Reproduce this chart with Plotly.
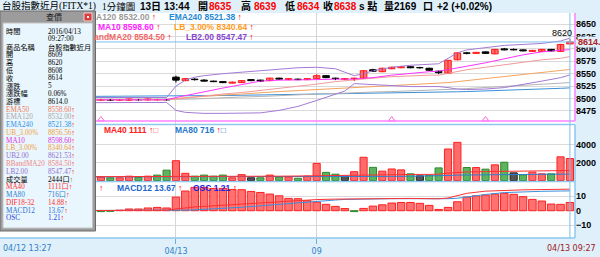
import plotly.graph_objects as go

# ---------------- data ----------------
TIMES = ["13:27", "13:28", "13:29", "13:30", "13:31", "13:32", "13:33", "13:34", "13:35", "13:36",
         "13:37", "13:38", "13:39", "13:40", "13:41", "13:42", "13:43", "13:44", "13:45",
         "08:45", "08:46", "08:47", "08:48", "08:49", "08:50", "08:51", "08:52", "08:53", "08:54",
         "08:55", "08:56", "08:57", "08:58", "08:59", "09:00", "09:01", "09:02", "09:03", "09:04",
         "09:05", "09:06", "09:07", "09:08", "09:09", "09:10", "09:11", "09:12", "09:13", "09:14",
         "09:15", "09:16", "09:17", "09:18", "09:19", "09:20", "09:21", "09:22", "09:23", "09:24",
         "09:25", "09:26", "09:27"]
TICK_AT = ["08:45", "09:00"]
TICK_TEXT = ["04/13", "09"]
START_LABEL = "04/12 13:27"
END_LABEL = "04/13 09:27"

OPEN = [8497, 8496, 8497, 8498, 8497, 8496, 8497, 8499, 8497, 8498, 8496,
        8496, 8498, 8496, 8496, 8498, 8497, 8497, 8498,
        8543, 8536, 8539, 8537, 8535, 8534, 8531, 8532, 8538, 8537, 8536, 8541, 8538, 8539, 8538,
        8540, 8546, 8541, 8539, 8540, 8541, 8558, 8554, 8560, 8562, 8564, 8562, 8561, 8555, 8551,
        8578, 8592, 8591, 8594, 8590, 8600, 8599, 8598, 8595, 8595, 8599, 8595, 8610]
HIGH = [8499, 8498, 8499, 8500, 8499, 8498, 8500, 8500, 8499, 8499, 8498,
        8499, 8499, 8498, 8500, 8499, 8500, 8499, 8499,
        8546, 8541, 8541, 8539, 8536, 8535, 8534, 8537, 8539, 8538, 8542, 8542, 8541, 8540, 8541,
        8549, 8547, 8542, 8541, 8542, 8557, 8560, 8562, 8564, 8565, 8565, 8564, 8562, 8556, 8578,
        8593, 8594, 8594, 8595, 8600, 8602, 8601, 8599, 8598, 8600, 8600, 8610, 8620]
LOW = [8495, 8494, 8495, 8496, 8495, 8494, 8496, 8496, 8495, 8495, 8494,
       8495, 8495, 8495, 8495, 8496, 8496, 8496, 8496,
       8532, 8535, 8536, 8534, 8533, 8531, 8530, 8531, 8535, 8534, 8535, 8538, 8537, 8537, 8537,
       8539, 8541, 8537, 8537, 8535, 8540, 8554, 8553, 8559, 8561, 8561, 8560, 8556, 8549, 8550,
       8577, 8589, 8590, 8590, 8589, 8597, 8597, 8595, 8594, 8594, 8595, 8594, 8609]
CLOSE = [8496, 8497, 8498, 8497, 8496, 8497, 8499, 8497, 8498, 8496, 8496,
         8498, 8496, 8497, 8499, 8497, 8499, 8498, 8497,
         8537, 8540, 8538, 8535, 8534, 8532, 8533, 8536, 8536, 8535, 8541, 8539, 8540, 8538, 8540,
         8546, 8542, 8540, 8540, 8541, 8556, 8555, 8561, 8563, 8564, 8562, 8562, 8557, 8552, 8577,
         8592, 8591, 8593, 8591, 8599, 8598, 8598, 8596, 8597, 8599, 8596, 8609, 8614]
VOLUME = [350, 420, 300, 380, 450, 320, 400, 360, 300, 420, 380,
          390, 300, 300, 480, 350, 480, 600, 1150,
          2200, 800, 480, 600, 480, 600, 300, 650, 300, 300, 600, 400, 400, 250, 480,
          1900, 900, 700, 500, 980, 2580, 1460, 1040, 1280, 1180, 740, 520, 590, 1400, 3500,
          4240, 1440, 1440, 1260, 1740, 2030, 850, 630, 930, 740, 740, 2630, 2444]
OSC = [-0.3, -0.3, -0.4, -0.4, -0.5, -0.5, -0.5, -0.6, -0.6, -0.6, -0.6,
       -0.6, -0.4, 0.4, 1.2, 1.2, 1.9, 2.3, 1.9,
       9.4, 13.6, 16.1, 16.1, 15.4, 15.4, 14.7, 14.5, 13.3, 12.6, 11.5, 10.3, 8.5, 8.3, 6.9,
       6.0, 4.4, 3.0, 1.5, -0.6, 1.6, 3.2, 4.1, 5.3, 5.7, 5.7, 5.1, 3.7, 0.9, 2.3,
       6.2, 9.4, 10.3, 10.8, 11.5, 12.0, 11.3, 9.7, 7.8, 6.7, 4.6, 4.4, 5.7]

# indicator lines, read at these bar positions
LINE_IDX = [0, 9, 14, 18, 19, 20, 21, 22, 24, 26, 28, 30, 32, 34, 36, 37, 38, 39, 40, 42, 44, 46,
            47, 48, 49, 50, 52, 54, 56, 58, 60, 61]
UB2 = [8502, 8502, 8502, 8502, 8525, 8537, 8543, 8546, 8550, 8553, 8557, 8560, 8562, 8563, 8560,
       8553, 8546, 8550, 8556, 8563, 8567, 8569, 8570, 8581, 8592, 8598, 8603, 8607, 8609, 8611,
       8616, 8621.53]
LB2 = [8491, 8491, 8492, 8492, 8476, 8472, 8471, 8470, 8470, 8470, 8471, 8476, 8484, 8496, 8508,
       8515, 8530, 8529, 8527, 8525, 8524, 8524, 8524, 8522, 8519, 8518, 8519, 8522, 8528, 8535,
       8542, 8547.47]
BBMA20 = [8497, 8497, 8497, 8497, 8499, 8501, 8503, 8506, 8509, 8512, 8516, 8520, 8524, 8529,
          8534, 8536, 8538, 8539, 8541, 8544, 8546, 8547, 8547, 8551, 8555, 8558, 8563, 8568,
          8573, 8578, 8581, 8584.50]
MA10 = [8497, 8497, 8497, 8497.5, 8502, 8506, 8510, 8514, 8521, 8528, 8535, 8537, 8537, 8538,
        8539, 8539, 8539, 8541, 8542, 8547, 8551, 8554, 8555, 8558, 8562, 8565, 8572, 8580, 8588,
        8594, 8597, 8598.60]
EMA50 = [8498, 8498, 8498, 8498, 8500, 8501.5, 8503, 8504, 8507, 8509, 8512, 8514, 8516, 8518,
         8519, 8520, 8521, 8522, 8523, 8525, 8527, 8529, 8530, 8532, 8534, 8536, 8540, 8544, 8548,
         8552, 8556, 8558.60]
EMA120 = [8497, 8497, 8497, 8497, 8498, 8498.5, 8499, 8500, 8501, 8503, 8504, 8506, 8507, 8509,
          8510, 8511, 8511, 8512, 8513, 8514, 8515, 8516, 8517, 8518, 8519, 8520, 8522, 8524,
          8526, 8529, 8531, 8532.00]
EMA240 = [8503, 8504, 8504, 8504, 8504.5, 8505, 8505, 8505.5, 8506, 8506.5, 8507, 8507.5, 8508,
          8508.5, 8509, 8509.5, 8509.5, 8510, 8510.5, 8511, 8511.5, 8512, 8512.5, 8513, 8513.5,
          8514, 8515, 8516, 8517.5, 8519, 8520.5, 8521.38]
VMA40 = [400, 400, 400, 400, 430, 435, 440, 445, 450, 455, 460, 480, 500, 540, 570, 590, 600,
         610, 620, 650, 670, 680, 700, 820, 920, 950, 990, 1020, 1040, 1060, 1090, 1111]
VMA80 = [380, 380, 380, 380, 390, 392, 394, 396, 398, 400, 402, 405, 410, 420, 430, 435, 440,
         445, 450, 460, 470, 480, 490, 560, 600, 610, 630, 650, 670, 690, 705, 716]
DIF = [0, 0, 0.1, 0.3, 1.2, 2.0, 2.6, 3.0, 3.8, 4.6, 5.4, 6.3, 7.2, 7.7, 8.0, 8.1, 8.2, 8.3, 8.4,
       8.5, 8.5, 8.3, 8.2, 8.8, 10.3, 12.0, 13.5, 14.1, 14.4, 14.6, 14.8, 14.88]
MACD = [0, 0, 0, 0.1, 0.2, 0.4, 0.6, 0.9, 1.5, 2.4, 3.4, 4.5, 5.6, 6.6, 7.4, 7.8, 8.0, 8.1, 8.2,
        8.3, 8.3, 8.2, 8.2, 8.3, 8.6, 9.6, 11.2, 12.5, 13.1, 13.4, 13.6, 13.67]
SIGNAL_AT = ["13:38", "09:08", "09:18"]

PRICE_TICKS = [8475, 8500, 8525, 8550, 8575, 8600, 8625, 8650]
VOL_TICKS = [2000, 4000]
MACD_TICKS = [-10, 0, 10]

HEADER = [("台股指數近月(FITX*1)", 1, "#000000", "n"), ("1分鐘圖", 101, "#000000", "n"),
          ("13日 13:44", 139, "#000000", "b"), ("開", 197, "#000000", "b"),
          ("8635", 208, "#ff0000", "b"), ("高", 240, "#000000", "b"),
          ("8639", 253, "#ff0000", "b"), ("低", 284, "#000000", "b"),
          ("8634", 296, "#ff0000", "b"), ("收", 322, "#000000", "b"),
          ("8638", 333, "#ff0000", "b"), ("s 點", 358, "#000000", "b"),
          ("量", 383, "#000000", "b"), ("2169", 393, "#000000", "b"),
          ("口", 422, "#000000", "b"), ("+2 (+0.02%)", 436, "#000000", "b")]

INFO_LABELS = ["時間", "", "商品名稱", "開", "高", "低", "收", "漲跌", "漲跌幅", "游標",
               "EMA50", "EMA120", "EMA240", "UB_3.00%", "MA10", "LB_3.00%", "UB2.00",
               "BBandMA20", "LB2.00", "成交量", "MA40", "MA80", "DIF18-32", "MACD12", "OSC"]
INFO_VALUES = ["2016/04/13", "09:27:00", "台股指數近月", "8609", "8620", "8608", "8614", "5",
               "0.06%", "8614.0", "8558.60", "8532.00", "8521.38", "8856.56", "8598.60",
               "8340.64", "8621.53", "8584.50", "8547.47", "2444口", "1111口", "716口",
               "14.88", "13.67", "1.21"]
INFO_COLORS = ["#000000"] * 10 + ["#ee7a55", "#a9a9a9", "#2a90e0", "#f0a040", "#e030e0",
                                  "#f0a040", "#9070d0", "#f08888", "#9070d0", "#000000",
                                  "#ff3030", "#2a80d0", "#ff3030", "#2a70d0", "#2040e0"]

# ---------------- geometry / style ----------------
W, H = 600, 257
PLOT_R = 575
BLUE_BG = "#dff0fb"
SANS = "Liberation Sans, Arial, Noto Sans CJK TC"
CJK = "Liberation Serif, Noto Sans CJK TC"


def py(y):
    return 1 - y / H


IDX = list(range(len(TIMES)))

fig = go.Figure()

# price indicator lines
for vals, col in [(EMA240, "#3a8fd8"), (EMA120, "#b4b4b4"), (EMA50, "#f4a460"),
                  (BBMA20, "#f39a9a"), (UB2, "#a47ad6"), (LB2, "#a47ad6"), (MA10, "#ff33ff")]:
    fig.add_trace(go.Scatter(x=LINE_IDX, y=vals, mode="lines", line=dict(color=col, width=1),
                             xaxis="x", yaxis="y", hoverinfo="skip"))

# candles: wicks + bodies
up = [c > o for o, c in zip(OPEN, CLOSE)]
for is_up, col in [(True, "#ff1a1a"), (False, "#000000")]:
    wx, wy = [], []
    for i in IDX:
        if up[i] == is_up:
            wx += [i, i, None]
            wy += [LOW[i], HIGH[i], None]
    fig.add_trace(go.Scatter(x=wx, y=wy, mode="lines", line=dict(color=col, width=1),
                             xaxis="x", yaxis="y", hoverinfo="skip"))
body_base = [min(o, c) for o, c in zip(OPEN, CLOSE)]
body_h = [max(abs(c - o), 0.3) for o, c in zip(OPEN, CLOSE)]
fig.add_trace(go.Bar(x=IDX, y=body_h, base=body_base, width=0.7, xaxis="x", yaxis="y",
                     marker=dict(color=["#ff7070" if u else "#000000" for u in up],
                                 line=dict(color=["#ff1a1a" if u else "#000000" for u in up],
                                           width=1)),
                     hovertext=TIMES))

# volume
vfill, vline = [], []
for i in IDX:
    d = CLOSE[i] - (CLOSE[i - 1] if i > 0 else CLOSE[i] - 1)
    if d > 0:
        vfill.append("#ff6b6b"); vline.append("#ff2020")
    elif d < 0:
        vfill.append("#5fb35f"); vline.append("#2a8a2a")
    else:
        vfill.append("#555555"); vline.append("#222222")
fig.add_trace(go.Bar(x=IDX, y=VOLUME, width=0.76, xaxis="x", yaxis="y2",
                     marker=dict(color=vfill, line=dict(color=vline, width=1))))
fig.add_trace(go.Scatter(x=LINE_IDX, y=VMA80, mode="lines", line=dict(color="#2a7fd0", width=1),
                         xaxis="x", yaxis="y2"))
fig.add_trace(go.Scatter(x=LINE_IDX, y=VMA40, mode="lines", line=dict(color="#ff3030", width=1),
                         xaxis="x", yaxis="y2"))

# MACD
ofill = ["#ff7070" if v >= 0 else "#5fb35f" for v in OSC]
oline = ["#ff2020" if v >= 0 else "#2a8a2a" for v in OSC]
fig.add_trace(go.Bar(x=IDX, y=OSC, width=0.8, xaxis="x", yaxis="y3",
                     marker=dict(color=ofill, line=dict(color=oline, width=1))))
fig.add_trace(go.Scatter(x=LINE_IDX, y=MACD, mode="lines", line=dict(color="#3a90dc", width=1),
                         xaxis="x", yaxis="y3"))
fig.add_trace(go.Scatter(x=LINE_IDX, y=DIF, mode="lines", line=dict(color="#ff3030", width=1),
                         xaxis="x", yaxis="y3"))

# signal markers at bottom of price panel
PMIN, PMAX = 8454.6, 8672.4
sig_x = [TIMES.index(t) for t in SIGNAL_AT]
fig.add_trace(go.Scatter(x=sig_x, y=[PMIN + 3] * len(sig_x), mode="markers", xaxis="x", yaxis="y",
                         marker=dict(symbol="triangle-up-open", size=6, color="#ff66cc",
                                     line=dict(width=1)), cliponaxis=False))

tickvals = [TIMES.index(t) for t in TICK_AT]

fig.update_layout(
    width=W, height=H, margin=dict(l=0, r=0, t=0, b=0),
    paper_bgcolor=BLUE_BG, plot_bgcolor="#ffffff", showlegend=False,
    xaxis=dict(domain=[0, PLOT_R / W], range=[0.24, 61.54], anchor="y3",
               tickvals=tickvals, ticktext=TICK_TEXT, ticks="outside", ticklen=5,
               tickcolor="#6aaee0", tickfont=dict(family="DejaVu Sans", size=8, color="#2f80c8"),
               showgrid=True, gridcolor="#d6d6d6", zeroline=False, showline=False,
               fixedrange=True),
    yaxis=dict(domain=[py(121), py(13)], range=[PMIN, PMAX], side="right", anchor="x",
               tickvals=PRICE_TICKS, tickfont=dict(family=SANS, size=9, color="#000", weight="bold"),
               showgrid=True, gridcolor="#dadada", zeroline=False, ticks="", fixedrange=True),
    yaxis2=dict(domain=[py(181), py(121)], range=[-56, 6611], side="right", anchor="x",
                tickvals=VOL_TICKS, tickfont=dict(family=SANS, size=9, color="#000", weight="bold"),
                showgrid=True, gridcolor="#dadada", zeroline=False, ticks="", fixedrange=True),
    yaxis3=dict(domain=[py(238), py(181)], range=[-18.8, 20.5], side="right", anchor="x",
                tickvals=MACD_TICKS, tickfont=dict(family=SANS, size=9, color="#000", weight="bold"),
                showgrid=True, gridcolor="#dadada", zeroline=False, ticks="", fixedrange=True),
)

shapes = []
# panel borders
shapes.append(dict(type="line", xref="paper", yref="paper", x0=0, x1=PLOT_R / W, y0=py(121), y1=py(121),
                   line=dict(color="#ff7fff", width=1.5)))
shapes.append(dict(type="line", xref="paper", yref="paper", x0=PLOT_R / W, x1=PLOT_R / W, y0=py(121),
                   y1=py(13), line=dict(color="#ff7fff", width=1.5)))
shapes.append(dict(type="line", xref="paper", yref="paper", x0=0, x1=PLOT_R / W, y0=py(124.5), y1=py(124.5),
                   line=dict(color="#8ec8ee", width=1.5)))
shapes.append(dict(type="line", xref="paper", yref="paper", x0=0, x1=PLOT_R / W, y0=py(181.5), y1=py(181.5),
                   line=dict(color="#8ec8ee", width=1.5)))
shapes.append(dict(type="line", xref="paper", yref="paper", x0=0, x1=PLOT_R / W, y0=py(238), y1=py(238),
                   line=dict(color="#8ec8ee", width=1.5)))
shapes.append(dict(type="line", xref="paper", yref="paper", x0=PLOT_R / W, x1=PLOT_R / W, y0=py(238),
                   y1=py(124.5), line=dict(color="#8ec8ee", width=1.5)))
# crosshair at last bar
shapes.append(dict(type="line", xref="x", yref="paper", x0=IDX[-1], x1=IDX[-1], y0=py(238), y1=py(13),
                   line=dict(color="#7cc0ec", width=1)))
shapes.append(dict(type="line", xref="paper", yref="y", x0=0, x1=PLOT_R / W, y0=CLOSE[-1], y1=CLOSE[-1],
                   line=dict(color="#7cc0ec", width=1)))
# info window (overlay)
shapes.append(dict(type="rect", xref="paper", yref="paper", x0=0, x1=95.5 / W, y0=py(231), y1=py(11),
                   fillcolor="#9c9c9c", line=dict(color="#6a6a6a", width=1), layer="above"))
shapes.append(dict(type="rect", xref="paper", yref="paper", x0=3 / W, x1=92.5 / W, y0=py(228), y1=py(23),
                   fillcolor="#eaf6fd", line=dict(color="#c4c4c4", width=1), layer="above"))
shapes.append(dict(type="rect", xref="paper", yref="paper", x0=84 / W, x1=92 / W, y0=py(21), y1=py(13),
                   fillcolor="#dc3c3c", line=dict(color="#f0d0d0", width=1), layer="above"))
shapes.append(dict(type="rect", xref="paper", yref="paper", x0=87 / W, x1=89 / W, y0=py(18), y1=py(16),
                   fillcolor="#ffffff", line=dict(width=0), layer="above"))
fig.update_layout(shapes=shapes)

ann = []


def txt(x, y, s, color="#000000", size=9, family=SANS, bold=False, xanchor="left"):
    ann.append(dict(xref="paper", yref="paper", x=x / W, y=py(y), text=s, showarrow=False,
                    xanchor=xanchor, yanchor="middle", borderpad=0,
                    font=dict(family=family, size=size, color=color,
                              weight="bold" if bold else "normal")))


UP = "<span style='color:#ff0000'>↑</span>"
UPG = "<span style='color:#20a020'>↑</span>"

for s, x, c, b in HEADER:
    if b == "n":
        txt(x, 6, s, c, size=9.5, family=CJK)
    else:
        txt(x, 6, s, c, size=10, family=SANS, bold=True)

# legends in price panel
txt(95, 17.5, "A120 8532.00 " + UP, "#9a9a9a", 8.5, SANS, True)
txt(168, 17.5, "EMA240 8521.38 " + UP, "#1e88d8", 8.5, SANS, True)
txt(97, 27.5, "MA10 8598.60 " + UP, "#ff22ff", 8.5, SANS, True)
txt(173, 27.5, "LB_3.00% 8340.64 " + UP, "#ff9a1a", 8.5, SANS, True)
txt(93, 37, "andMA20 8584.50 " + UP, "#f06868", 8.5, SANS, True)
txt(185, 37, "LB2.00 8547.47 " + UP, "#8844cc", 8.5, SANS, True)
# legends in volume panel
txt(103, 130, "MA40 1111 " + UP + "<span style='color:#ff6060'>□</span>", "#ff2020", 8.5, SANS, True)
txt(174, 130, "MA80 716 " + UP + "<span style='color:#2277cc'>□</span>", "#2277cc", 8.5, SANS, True)
# legends in MACD panel
txt(98, 188, "↑", "#ff0000", 8.5, SANS, True)
txt(116, 188, "MACD12 13.67 " + UP, "#2266cc", 8.5, SANS, True)
txt(192, 188, "OSC 1.21 " + UP, "#2222dd", 8.5, SANS, True)

# last price label and high label
ann.append(dict(xref="paper", yref="y", x=577 / W, y=CLOSE[-1], text=f"{CLOSE[-1]:.1f}",
                showarrow=False, xanchor="left", yanchor="middle", borderpad=0, bgcolor=BLUE_BG,
                font=dict(family=SANS, size=9, color="#b02020", weight="bold")))
hi = max(HIGH)
ann.append(dict(xref="x", yref="y", x=HIGH.index(hi), y=hi, text=str(hi), showarrow=False,
                xanchor="right", yanchor="bottom", xshift=3, borderpad=0,
                font=dict(family=SANS, size=9, color="#000000")))

# x end labels
txt(2, 248.5, START_LABEL, "#2f80c8", 8, "DejaVu Sans")
txt(597, 248.5, END_LABEL, "#a01818", 8, "DejaVu Sans", xanchor="right")

# info window text
txt(45, 17, "查價", "#202020", 8, CJK)
for k, (lab, val, col) in enumerate(zip(INFO_LABELS, INFO_VALUES, INFO_COLORS)):
    y = 31.7 + k * 7.78
    if lab:
        txt(5, y, lab, col, 7.2, CJK)
    v = val
    if k >= 10:
        v = val + (UPG if lab == "成交量" else UP)
    txt(47, y, v, col, 7.2, CJK)

fig.update_layout(annotations=ann)
fig.write_html("out.html")
